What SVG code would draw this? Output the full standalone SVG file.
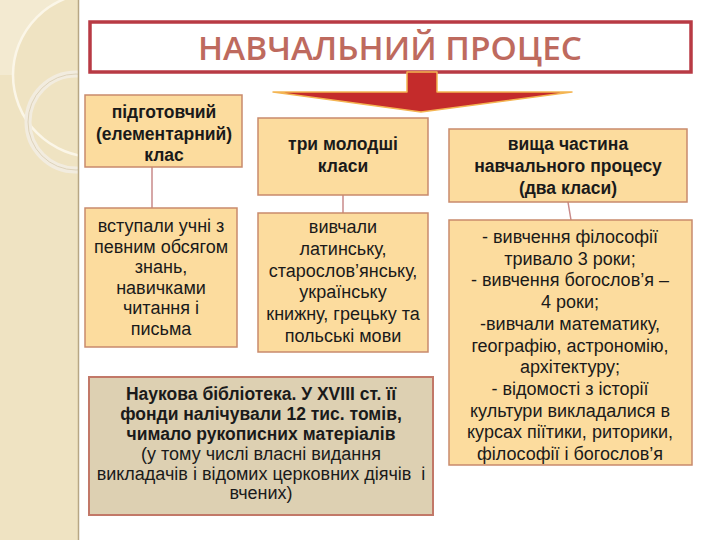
<svg xmlns="http://www.w3.org/2000/svg" width="720" height="540" viewBox="0 0 720 540">
<defs>
<style>
.box{fill:#fcdc9e;stroke:#c98a6c;stroke-width:1.5}
.lib{fill:#ddd0b2;stroke:#c27868;stroke-width:2}
.t{font-family:"Liberation Sans",Arial,sans-serif;font-size:18px;fill:#1a1a1a;text-anchor:middle}
.b{font-weight:bold;font-size:17.5px}
.conn{stroke:#c98a8a;stroke-width:1.5;fill:none}
</style>
<clipPath id="strip"><rect x="0" y="0" width="78" height="540"/></clipPath>
</defs>
<rect width="720" height="540" fill="#ffffff"/>
<g id="decor">
<rect x="0" y="0" width="78" height="540" fill="#efe3c2"/>
<g clip-path="url(#strip)">
<path d="M0,0 L62,0 A82,82 0 0 0 13,75 L0,75 Z" fill="#f3ead1"/>
<circle cx="95" cy="75" r="82" fill="none" stroke="#fbf6e8" stroke-width="2.5"/>
<circle cx="76" cy="122" r="48" fill="none" stroke="#f2ecdf" stroke-width="7"/>
<circle cx="76" cy="122" r="48" fill="none" stroke="#d8ccb0" stroke-width="0.8"/>
</g>
<line x1="78.5" y1="0" x2="78.5" y2="540" stroke="#b7a684" stroke-width="1.5"/>
</g>
<g id="title">
<rect x="90" y="22" width="601" height="50" fill="#ffffff" stroke="#b83a44" stroke-width="3.5"/>
<text x="390" y="60" font-family="'Open Sans','Noto Sans',sans-serif" font-size="33" font-weight="600" fill="#be6a5e" text-anchor="middle" textLength="384" lengthAdjust="spacingAndGlyphs">НАВЧАЛЬНИЙ ПРОЦЕС</text>
</g>
<g id="arrow">
<path d="M407,72 L437,72 L437,92 L572,92 L421,112 L273,92 L407,92 Z" fill="#c42b2b" stroke="#f4b552" stroke-width="1.5" stroke-linejoin="round"/>
</g>
<g id="connectors">
<line class="conn" x1="152" y1="167" x2="152" y2="208"/>
<line class="conn" x1="343" y1="195" x2="343" y2="213"/>
<line class="conn" x1="568" y1="202" x2="571" y2="220"/>
</g>
<g id="prep">
<rect class="box" x="85" y="95" width="157" height="72"/>
<text class="t b" x="164" y="118">підготовчий</text>
<text class="t b" x="164" y="140">(елементарний)</text>
<text class="t b" x="164" y="161">клас</text>
</g>
<g id="junior">
<rect class="box" x="258" y="118" width="170" height="77"/>
<text class="t b" x="343" y="150">три молодші</text>
<text class="t b" x="343" y="172">класи</text>
</g>
<g id="senior">
<rect class="box" x="449" y="129" width="238" height="73"/>
<text class="t b" x="568" y="150">вища частина</text>
<text class="t b" x="568" y="172">навчального процесу</text>
<text class="t b" x="568" y="194">(два класи)</text>
</g>
<g id="prep-detail">
<rect class="box" x="85" y="208" width="152" height="139"/>
<text class="t" x="161" y="232">вступали учні з</text>
<text class="t" x="161" y="252.6">певним обсягом</text>
<text class="t" x="161" y="273.2">знань,</text>
<text class="t" x="161" y="293.8">навичками</text>
<text class="t" x="161" y="314.4">читання і</text>
<text class="t" x="161" y="335">письма</text>
</g>
<g id="junior-detail">
<rect class="box" x="258" y="213" width="170" height="139"/>
<text class="t" x="343" y="233">вивчали</text>
<text class="t" x="343" y="254.8">латинську,</text>
<text class="t" x="343" y="276.6">старослов’янську,</text>
<text class="t" x="343" y="298.4">українську</text>
<text class="t" x="343" y="320.2">книжну, грецьку та</text>
<text class="t" x="343" y="342">польські мови</text>
</g>
<g id="senior-detail">
<rect class="box" x="449" y="220" width="243" height="245"/>
<text class="t" x="570" y="243">- вивчення філософії</text>
<text class="t" x="570" y="264.7">тривало 3 роки;</text>
<text class="t" x="570" y="286.4">- вивчення богослов’я –</text>
<text class="t" x="570" y="308.1">4 роки;</text>
<text class="t" x="570" y="329.8">-вивчали математику,</text>
<text class="t" x="570" y="351.5">географію, астрономію,</text>
<text class="t" x="570" y="373.2">архітектуру;</text>
<text class="t" x="570" y="394.9">- відомості з історії</text>
<text class="t" x="570" y="416.6">культури викладалися в</text>
<text class="t" x="570" y="438.3">курсах піїтики, риторики,</text>
<text class="t" x="570" y="460">філософії і богослов’я</text>
</g>
<g id="library">
<rect class="lib" x="89" y="377" width="344" height="138"/>
<text class="t b" x="261" y="400">Наукова бібліотека. У XVIII ст. її</text>
<text class="t b" x="261" y="420">фонди налічували 12 тис. томів,</text>
<text class="t b" x="261" y="440">чимало рукописних матеріалів</text>
<text class="t" x="261" y="460">(у тому числі власні видання</text>
<text class="t" x="261" y="480" xml:space="preserve">викладачів і відомих церковних діячів  і</text>
<text class="t" x="261" y="499">вчених)</text>
</g>
</svg>
